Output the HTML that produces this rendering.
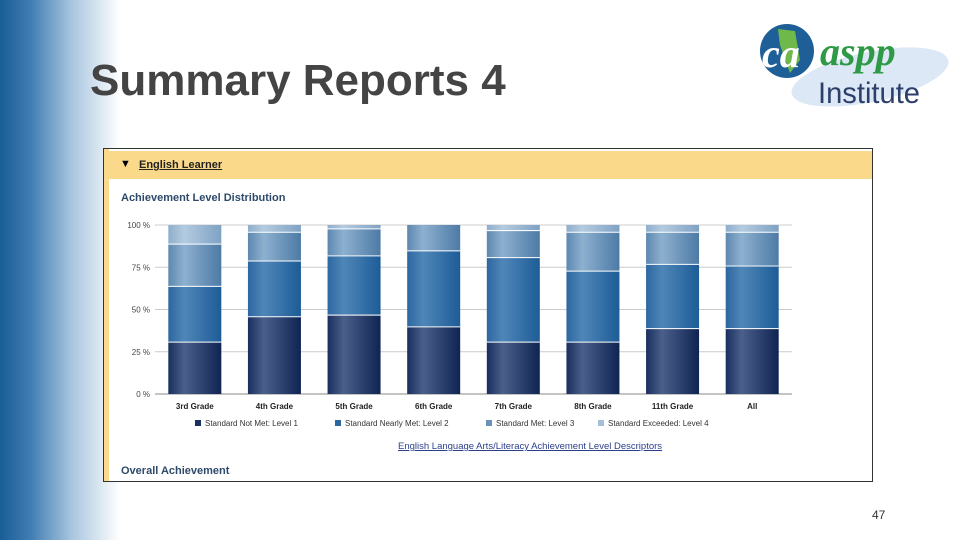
<!DOCTYPE html>
<html><head><meta charset="utf-8"><style>
body{margin:0;width:960px;height:540px;overflow:hidden;background:#fff;font-family:"Liberation Sans",sans-serif;position:relative}
.strip{position:absolute;left:0;top:0;width:120px;height:540px;background:linear-gradient(to right,#1a5d96 0%,#3f7cb2 25%,#a9c6df 60%,#fff 100%)}
</style></head><body>
<div class="strip"></div>
<div style="position:absolute;left:90px;top:56px;font-size:44px;font-weight:bold;color:#444">Summary Reports 4</div>
<svg style="position:absolute;left:750px;top:15px" width="205" height="100">
<ellipse cx="120" cy="62" rx="80" ry="25" fill="#dce8f5" transform="rotate(-12 120 62)"/>
<circle cx="37" cy="36" r="27" fill="#1f5f98"/>
<path d="M28 14 L45 16 L50 45 L40 58 L30 30 Z" fill="#6fb84a"/>
<text x="12" y="52" font-size="40" font-style="italic" font-weight="bold" fill="#fff" font-family="Liberation Serif,serif">ca</text>
<text x="70" y="50" font-size="40" font-style="italic" font-weight="bold" fill="#2e9a46" font-family="Liberation Serif,serif">aspp</text>
<text x="68" y="88" font-size="30" fill="#2c3f6b" font-family="Liberation Sans,sans-serif" textLength="102" lengthAdjust="spacingAndGlyphs">Institute</text>
</svg>
<div style="position:absolute;left:103px;top:148px;width:768px;height:332px;border:1px solid #333;background:#fff">
<div style="position:absolute;left:0;top:0;width:5px;height:332px;background:#fbd98a"></div>
<div style="position:absolute;left:0;top:2px;width:768px;height:28px;background:#fbd98a;font-size:11px;font-weight:bold">
<span style="position:absolute;left:16px;top:7px">▼</span><span style="position:absolute;left:35px;top:8px;text-decoration:underline;color:#222">English Learner </span></div>
<div style="position:absolute;left:17px;top:43px;font-size:11px;font-weight:bold;color:#2e4a6b">Achievement Level Distribution</div>
<div style="position:absolute;left:294px;top:292px;font-size:9.5px;color:#2c3f8c;text-decoration:underline">English Language Arts/Literacy Achievement Level Descriptors</div>
<div style="position:absolute;left:17px;top:316px;font-size:11px;font-weight:bold;color:#2e4a6b">Overall Achievement</div>
</div>
<svg id="chart" style="position:absolute;left:0;top:0" width="960" height="540">
<defs>
<linearGradient id="g1" x1="0" x2="1"><stop offset="0" stop-color="#1a2f5e"/><stop offset="0.3" stop-color="#4a5f8a"/><stop offset="1" stop-color="#0f2452"/></linearGradient>
<linearGradient id="g2" x1="0" x2="1"><stop offset="0" stop-color="#2d67a0"/><stop offset="0.3" stop-color="#4f86b8"/><stop offset="1" stop-color="#1d5c97"/></linearGradient>
<linearGradient id="g3" x1="0" x2="1"><stop offset="0" stop-color="#5e88b0"/><stop offset="0.3" stop-color="#8db0cf"/><stop offset="1" stop-color="#4d7aa5"/></linearGradient>
<linearGradient id="g4" x1="0" x2="1"><stop offset="0" stop-color="#8eaecb"/><stop offset="0.3" stop-color="#b3cbe0"/><stop offset="1" stop-color="#7fa2c4"/></linearGradient>
</defs>
</svg>
<div style="position:absolute;left:872px;top:508px;font-size:12px;color:#333">47</div>
<script>
const categories=["3rd Grade","4th Grade","5th Grade","6th Grade","7th Grade","8th Grade","11th Grade","All"];
const level1=[31,46,47,40,31,31,39,39];
const level2=[33,33,35,45,50,42,38,37];
const level3=[25,17,16,15,16,23,19,20];
const level4=[11,4,2,0,3,4,4,4];
const seriesNames=["Standard Not Met: Level 1","Standard Nearly Met: Level 2","Standard Met: Level 3","Standard Exceeded: Level 4"];
const yTicks=[0,25,50,75,100];
const svg=document.getElementById('chart');const NS='http://www.w3.org/2000/svg';
const x0=155,x1=792,yTop=225,yBot=394;
const y=v=>yBot-(v/100)*(yBot-yTop);
const step=(x1-x0)/categories.length,bw=53;
const xc=i=>x0+step*(i+0.5);
function mk(t,a){const e=document.createElementNS(NS,t);for(const k in a)e.setAttribute(k,a[k]);svg.appendChild(e);return e;}
yTicks.forEach(t=>{
 const l=mk('line',{x1:x0,x2:x1,y1:y(t),y2:y(t),stroke:t==0?'#888':'#ccc','stroke-width':1});
 
 
 const tx=mk('text',{x:150,y:y(t)+3,'text-anchor':'end','font-size':8,fill:'#444'});tx.textContent=t+' %';
 
 
});
const series=[level1,level2,level3,level4];const fills=['url(#g1)','url(#g2)','url(#g3)','url(#g4)'];
categories.forEach((c,i)=>{
 let cum=0;
 series.forEach((s,k)=>{
  const v=s[i];if(v<=0)return;
  const r=mk('rect',{x:xc(i)-bw/2,y:y(cum+v),width:bw,height:y(cum)-y(cum+v),fill:fills[k]});
  
  
  cum+=v;
  if(cum<100){const sep=mk('line',{x1:xc(i)-bw/2,x2:xc(i)+bw/2,y1:y(cum),y2:y(cum),stroke:'#fff','stroke-width':2});
  
  }
 });
 const t=mk('text',{x:xc(i),y:409,'text-anchor':'middle','font-size':8,'font-weight':'bold',fill:'#222'});t.textContent=c;
 
 
});
const lx=[195,335,486,598],lc=['#1a2f5e','#2d67a0','#6a92b8','#a5bfd8'];
seriesNames.forEach((n,k)=>{
 const r=mk('rect',{x:lx[k],y:420,width:6,height:6,fill:lc[k]});
 
 
 const t=mk('text',{x:lx[k]+10,y:426,'font-size':8,fill:'#333'});t.textContent=n;
 
 
});
</script>
</body></html>
